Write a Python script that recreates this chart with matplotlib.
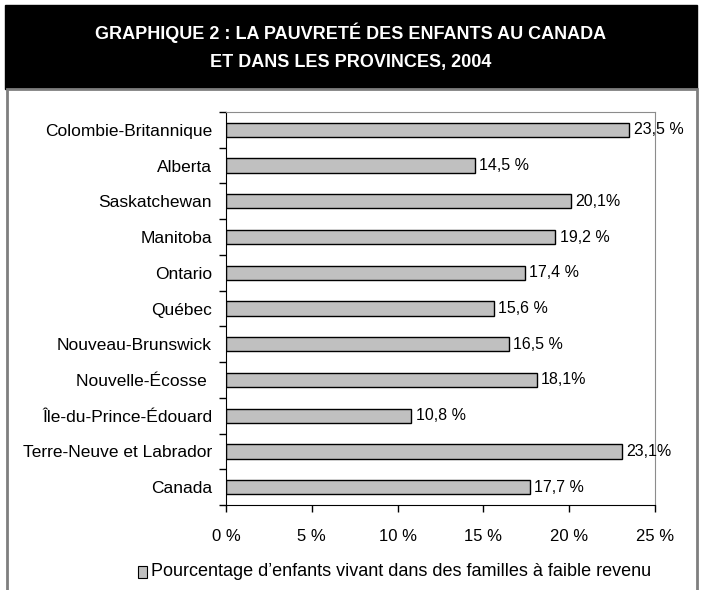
import matplotlib.pyplot as plt
from matplotlib.patches import Rectangle

plt.rcParams['font.family'] = ['Liberation Sans', 'DejaVu Sans']

provinces = ['Colombie-Britannique', 'Alberta', 'Saskatchewan', 'Manitoba', 'Ontario',
             'Québec', 'Nouveau-Brunswick', 'Nouvelle-Écosse ', 'Île-du-Prince-Édouard',
             'Terre-Neuve et Labrador', 'Canada']
pauvrete = [23.5, 14.5, 20.1, 19.2, 17.4, 15.6, 16.5, 18.1, 10.8, 23.1, 17.7]
etiquettes = ['23,5 %', '14,5 %', '20,1%', '19,2 %', '17,4 %', '15,6 %', '16,5 %',
              '18,1%', '10,8 %', '23,1%', '17,7 %']
xticks = [0, 5, 10, 15, 20, 25]
xlabels = ['0 %', '5 %', '10 %', '15 %', '20 %', '25 %']

fig = plt.figure(figsize=(7.02, 5.90), dpi=100)

# title box and frame (behind the axes)
fig.patches.append(Rectangle((5 / 702, 1 - 89 / 590), 692 / 702, 84 / 590,
                             transform=fig.transFigure, facecolor='black',
                             edgecolor='black', zorder=-2))
fig.patches.append(Rectangle((7 / 702, -0.01), 690 / 702, 1 - 89 / 590 + 0.01,
                             transform=fig.transFigure, facecolor='white',
                             edgecolor='#7f7f7f', linewidth=2, zorder=-2))
fig.text(0.5, 1 - 33 / 590, 'GRAPHIQUE 2 : LA PAUVRETÉ DES ENFANTS AU CANADA',
         color='white', fontsize=13, fontweight='bold', ha='center', va='center')
fig.text(0.5, 1 - 62 / 590, 'ET DANS LES PROVINCES, 2004',
         color='white', fontsize=13, fontweight='bold', ha='center', va='center')

ax = fig.add_axes([226 / 702, 1 - 505 / 590, 429 / 702, 393 / 590])
ax.set_zorder(2)
y = list(range(len(provinces)))
ax.barh(y, pauvrete, height=0.4, color='#c0c0c0', edgecolor='black', linewidth=1)
for yi, v, t in zip(y, pauvrete, etiquettes):
    ax.text(v + 0.25, yi, t, va='center', ha='left', fontsize=11.5, clip_on=False)

ax.set_xlim(0, 25)
ax.set_ylim(len(provinces) - 0.5, -0.5)
ax.set_xticks(xticks)
ax.set_xticklabels(xlabels, fontsize=12)
ax.set_yticks(y)
ax.set_yticklabels(provinces, fontsize=12.5)
ax.set_yticks([i - 0.5 for i in range(len(provinces) + 1)], minor=True)
ax.tick_params(axis='y', which='major', length=0, pad=10)
ax.tick_params(axis='y', which='minor', length=5, width=1, direction='out')
ax.tick_params(axis='x', length=5, width=1, direction='out', pad=12)
for s in ['top', 'right']:
    ax.spines[s].set_color('#8c8c8c')
for s in ['left', 'bottom']:
    ax.spines[s].set_color('black')

# legend
fig.patches.append(Rectangle((138 / 702, 1 - 578 / 590), 9 / 702, 12 / 590,
                             transform=fig.transFigure, facecolor='#c0c0c0',
                             edgecolor='black', linewidth=0.8))
fig.text(151 / 702, 1 - 572 / 590,
         'Pourcentage d’enfants vivant dans des familles à faible revenu',
         fontsize=13, va='center', ha='left')

fig.savefig('out.png', dpi=100)
